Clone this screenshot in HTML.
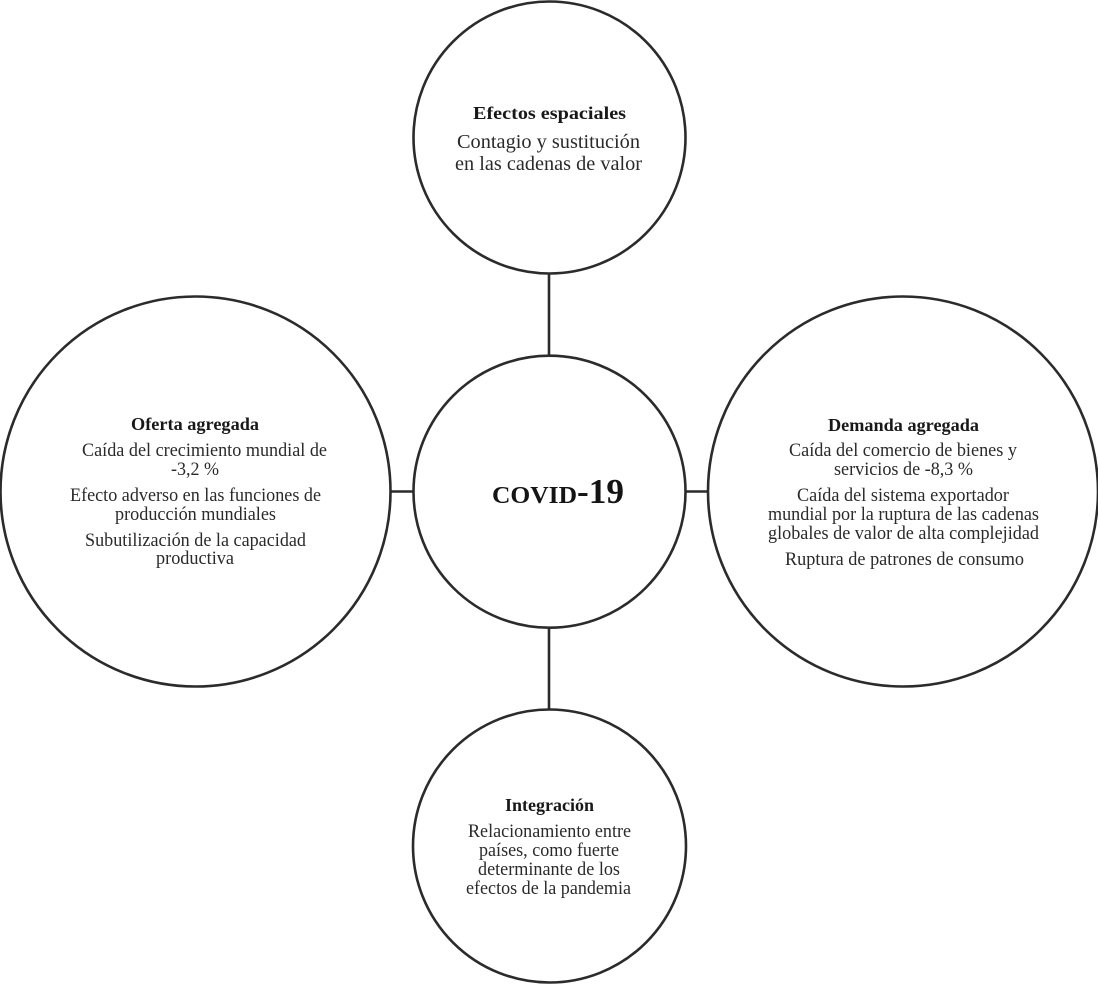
<!DOCTYPE html>
<html lang="es">
<head>
<meta charset="utf-8">
<title>COVID-19</title>
<style>
html,body{margin:0;padding:0;background:#fff}
svg{display:block}
text{font-family:"Liberation Serif","Times New Roman",serif;fill:#2a2a2a}
.b{font-weight:bold;font-size:18px;fill:#181818}
.r{font-size:18.5px}
.l{font-size:20.5px}
</style>
</head>
<body>
<svg width="1098" height="984" viewBox="0 0 1098 984" xmlns="http://www.w3.org/2000/svg">
<g stroke="#2b2b2b" stroke-width="2.6" fill="none">
<line x1="549" y1="274" x2="549" y2="356"/>
<line x1="549" y1="628" x2="549" y2="709"/>
<line x1="390" y1="491.5" x2="414" y2="491.5"/>
<line x1="685" y1="491.5" x2="708" y2="491.5"/>
<circle cx="549.5" cy="137.5" r="136"/>
<circle cx="549.5" cy="491.7" r="136"/>
<circle cx="549.5" cy="846" r="136.5"/>
<circle cx="195.5" cy="491.5" r="195"/>
<circle cx="903" cy="491.5" r="195"/>
</g>

<text class="b" x="473" y="119" textLength="153" lengthAdjust="spacingAndGlyphs">Efectos espaciales</text>
<text class="l" x="457" y="148" textLength="183" lengthAdjust="spacingAndGlyphs">Contagio y sustitución</text>
<text class="l" x="455" y="170" textLength="187" lengthAdjust="spacingAndGlyphs">en las cadenas de valor</text>

<text class="b" x="131" y="430" textLength="128" lengthAdjust="spacingAndGlyphs">Oferta agregada</text>
<text class="r" x="82" y="456" textLength="245" lengthAdjust="spacingAndGlyphs">Caída del crecimiento mundial de</text>
<text class="r" x="171" y="475" textLength="48" lengthAdjust="spacingAndGlyphs">-3,2 %</text>
<text class="r" x="70" y="501" textLength="251" lengthAdjust="spacingAndGlyphs">Efecto adverso en las funciones de</text>
<text class="r" x="115" y="520" textLength="161" lengthAdjust="spacingAndGlyphs">producción mundiales</text>
<text class="r" x="85" y="546" textLength="221" lengthAdjust="spacingAndGlyphs">Subutilización de la capacidad</text>
<text class="r" x="156" y="564" textLength="78" lengthAdjust="spacingAndGlyphs">productiva</text>

<text font-weight="bold" font-size="24" style="fill:#141414" x="492" y="503" textLength="85" lengthAdjust="spacingAndGlyphs">COVID</text>
<text font-weight="bold" font-size="35" style="fill:#141414" x="577" y="503" textLength="47" lengthAdjust="spacingAndGlyphs">-19</text>

<text class="b" x="828" y="431" textLength="151" lengthAdjust="spacingAndGlyphs">Demanda agregada</text>
<text class="r" x="789" y="456" textLength="228" lengthAdjust="spacingAndGlyphs">Caída del comercio de bienes y</text>
<text class="r" x="834" y="475" textLength="139" lengthAdjust="spacingAndGlyphs">servicios de -8,3 %</text>
<text class="r" x="797" y="501" textLength="212" lengthAdjust="spacingAndGlyphs">Caída del sistema exportador</text>
<text class="r" x="768" y="520" textLength="271" lengthAdjust="spacingAndGlyphs">mundial por la ruptura de las cadenas</text>
<text class="r" x="768" y="539" textLength="271" lengthAdjust="spacingAndGlyphs">globales de valor de alta complejidad</text>
<text class="r" x="785" y="565" textLength="239" lengthAdjust="spacingAndGlyphs">Ruptura de patrones de consumo</text>

<text class="b" x="505" y="811" textLength="89" lengthAdjust="spacingAndGlyphs">Integración</text>
<text class="r" x="468" y="837" textLength="163" lengthAdjust="spacingAndGlyphs">Relacionamiento entre</text>
<text class="r" x="479" y="856" textLength="140" lengthAdjust="spacingAndGlyphs">países, como fuerte</text>
<text class="r" x="478" y="875" textLength="142" lengthAdjust="spacingAndGlyphs">determinante de los</text>
<text class="r" x="466" y="894" textLength="165" lengthAdjust="spacingAndGlyphs">efectos de la pandemia</text>
</svg>
</body>
</html>
